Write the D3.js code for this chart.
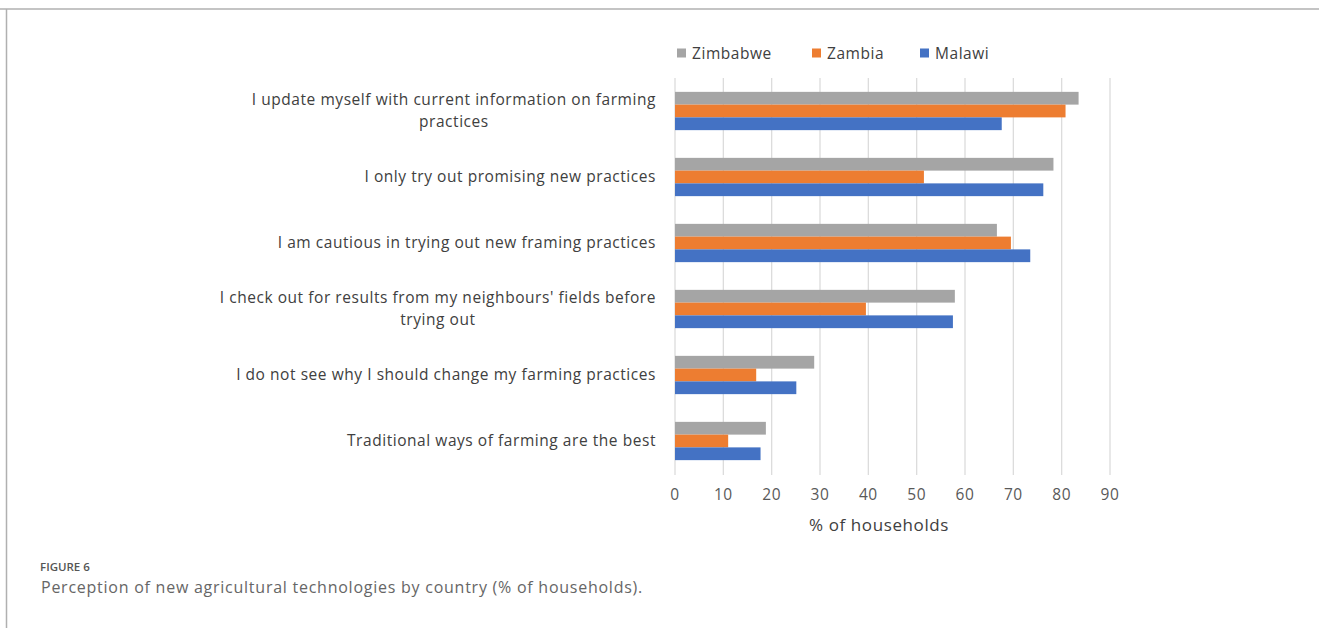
<!DOCTYPE html>
<html>
<head>
<meta charset="utf-8">
<script src="https://cdn.jsdelivr.net/npm/d3@7/dist/d3.min.js"></script>
<style>
  html, body { margin: 0; padding: 0; background: #fff; }
  svg { display: block; }
</style>
</head>
<body>
<svg id="chart" width="1319" height="628"></svg>
<script>
// Statements (top to bottom), each may wrap onto two lines
const categories = [
  ["I update myself with current information on farming", "practices"],
  ["I only try out promising new practices"],
  ["I am cautious in trying out new framing practices"],
  ["I check out for results from my neighbours' fields before", "trying out"],
  ["I do not see why I should change my farming practices"],
  ["Traditional ways of farming are the best"]
];
const series = ["Zimbabwe", "Zambia", "Malawi"];
const zimbabwe = [83.5, 78.3, 66.6, 57.9, 28.8, 18.8];
const zambia   = [80.8, 51.5, 69.5, 39.5, 16.8, 11.0];
const malawi   = [67.6, 76.2, 73.5, 57.5, 25.1, 17.7];
const xTicks = [0, 10, 20, 30, 40, 50, 60, 70, 80, 90];
const colors = ["#a5a5a5", "#ed7d31", "#4472c4"];

const values = [zimbabwe, zambia, malawi];
const svg = d3.select("#chart");
const font = "'Open Sans', 'Liberation Sans', sans-serif";
const labelSize = 15.5, labelSpacing = 0.55;

// Outer frame lines (top and left)
svg.append("line").attr("x1", 0).attr("x2", 1319).attr("y1", 9).attr("y2", 9)
  .attr("stroke", "#b0b0b0").attr("stroke-width", 1.5);
svg.append("line").attr("x1", 6.5).attr("x2", 6.5).attr("y1", 9).attr("y2", 628)
  .attr("stroke", "#b0b0b0").attr("stroke-width", 1.5);

const x = d3.scaleLinear().domain([0, 90]).range([675, 1110]);
const y = d3.scaleBand().domain(d3.range(categories.length))
  .range([78, 474]).paddingInner(0.42).paddingOuter(0.21);
const ySub = d3.scaleBand().domain(d3.range(series.length)).range([0, y.bandwidth()]);

// Vertical gridlines
svg.append("g").selectAll("line").data(xTicks).join("line")
  .attr("x1", d => x(d)).attr("x2", d => x(d))
  .attr("y1", 78).attr("y2", 475)
  .attr("stroke", "#dcdcdc").attr("stroke-width", 1.3);

// Bars
const groups = svg.append("g").selectAll("g").data(categories).join("g")
  .attr("transform", (d, i) => `translate(0,${y(i)})`);
groups.each(function(d, i) {
  d3.select(this).selectAll("rect").data(series).join("rect")
    .attr("x", x(0))
    .attr("y", (s, j) => ySub(j))
    .attr("width", (s, j) => x(values[j][i]) - x(0))
    .attr("height", ySub.bandwidth())
    .attr("fill", (s, j) => colors[j]);
});

// Category labels (right-aligned; a second line is centred under the first)
const labelRight = 656;
const labels = svg.append("g").selectAll("text").data(categories).join("text")
  .attr("y", (d, i) => y(i) + y.bandwidth() / 2)
  .attr("text-anchor", "end")
  .attr("font-family", font).attr("font-size", labelSize)
  .attr("letter-spacing", labelSpacing).attr("fill", "#404040");
labels.each(function(lines) {
  const t = d3.select(this);
  const lh = 21.5;
  lines.forEach((ln, k) => {
    t.append("tspan")
      .attr("x", labelRight)
      .attr("dy", k === 0 ? (-(lines.length - 1) * lh / 2 + 5) : lh)
      .text(ln);
  });
  if (lines.length > 1) {
    const spans = t.selectAll("tspan").nodes();
    const w0 = spans[0].getComputedTextLength();
    d3.select(spans[1]).attr("x", labelRight - w0 / 2).attr("text-anchor", "middle");
  }
});

// X axis tick labels
svg.append("g").selectAll("text").data(xTicks).join("text")
  .attr("x", d => x(d)).attr("y", 500)
  .attr("text-anchor", "middle")
  .attr("font-family", font).attr("font-size", labelSize)
  .attr("letter-spacing", labelSpacing).attr("fill", "#595959")
  .text(d => d);

// Axis title
svg.append("text").attr("x", 879).attr("y", 531)
  .attr("text-anchor", "middle")
  .attr("font-family", font).attr("font-size", 17)
  .attr("letter-spacing", 0.6).attr("fill", "#404040")
  .text("% of households");

// Legend
const legendX = [677, 812, 920];
const legend = svg.append("g").selectAll("g").data(series).join("g")
  .attr("transform", (d, i) => `translate(${legendX[i]},53)`);
legend.append("rect").attr("x", 0).attr("y", -4.5).attr("width", 9).attr("height", 9)
  .attr("fill", (d, i) => colors[i]);
legend.append("text").attr("x", 15).attr("y", 5.5)
  .attr("font-family", font).attr("font-size", labelSize)
  .attr("letter-spacing", labelSpacing).attr("fill", "#404040")
  .text(d => d);

// Caption
svg.append("text").attr("x", 40).attr("y", 571)
  .attr("font-family", font).attr("font-size", 11.5).attr("font-weight", 600).attr("fill", "#555")
  .text("FIGURE 6");
svg.append("text").attr("x", 41).attr("y", 592.5)
  .attr("font-family", font).attr("font-size", 16).attr("letter-spacing", 0.75).attr("fill", "#666")
  .text("Perception of new agricultural technologies by country (% of households).");
</script>
</body>
</html>
